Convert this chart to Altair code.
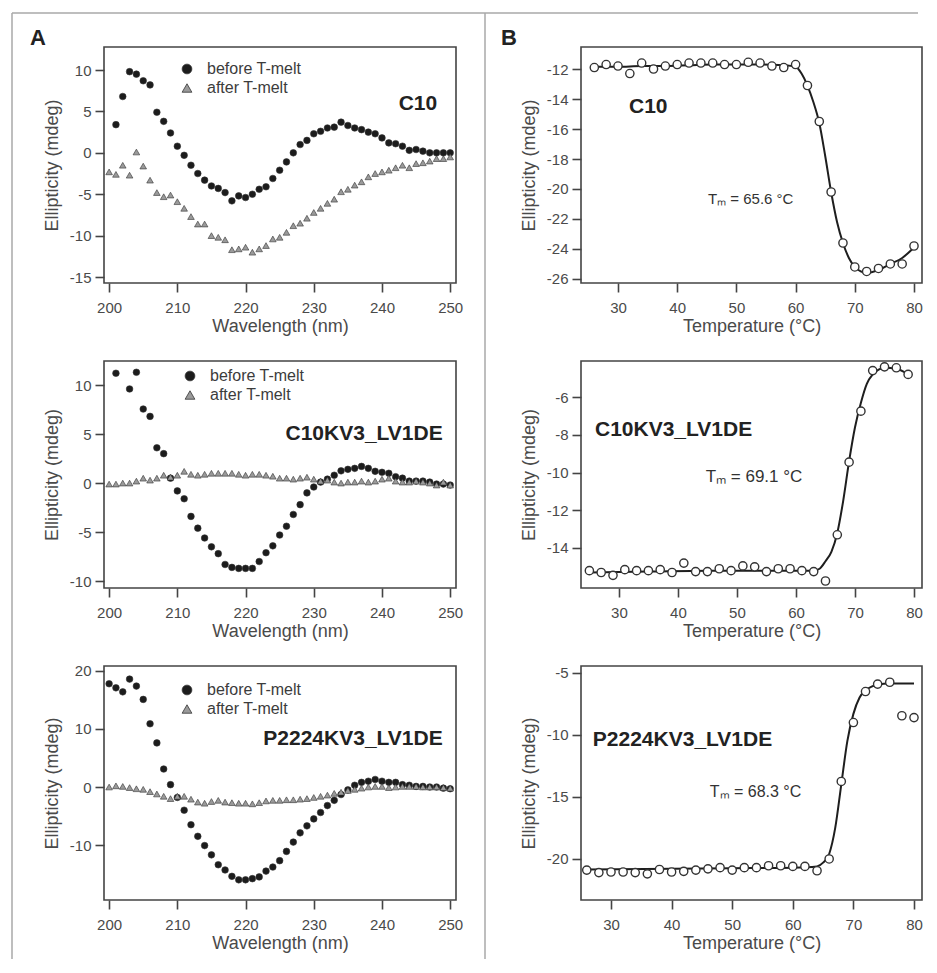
import altair as alt
import pandas as pd

# ---------------- data ----------------
WL = list(range(200, 251))
SERIES = ["before T-melt", "after T-melt"]

A1_BEFORE = [None,
    3.4, 6.8, 9.8, 9.5, 8.7, 8.2, 4.9, 3.8, 2.4, 0.8,
    -0.3, -1.5, -2.5, -3.3, -4.0, -4.3, -4.8, -5.8, -5.2, -5.4,
    -5.0, -4.4, -4.1, -3.1, -2.1, -1.1, 0.0, 1.0, 1.5, 2.3,
    2.6, 3.0, 3.1, 3.7, 3.3, 3.0, 2.8, 2.5, 2.3, 1.8,
    1.2, 1.1, 0.8, 0.3, 0.4, 0.2, 0.0, 0.0, 0.0, 0.0]
A1_AFTER = [
    -2.3, -2.6, -1.5, -2.7, 0.1, -1.6, -3.3, -4.8, -5.3, -5.1,
    -5.9, -6.7, -7.7, -8.6, -8.6, -10.0, -10.2, -10.5, -11.7, -11.6,
    -11.4, -12.0, -11.6, -11.2, -10.4, -10.2, -9.6, -8.8, -8.5, -7.9,
    -7.2, -6.7, -6.1, -5.6, -4.7, -4.4, -3.9, -3.5, -2.9, -2.5,
    -2.3, -2.1, -1.8, -1.5, -1.8, -1.3, -1.2, -1.0, -0.7, -0.7, -0.5]

A2_BEFORE = [
    None, 11.2, None, 9.6, 11.3, 7.55, 6.8, 3.6, 3.0, 0.5,
    -0.8, -1.6, -3.4, -4.6, -5.6, -6.5, -7.2, -8.3, -8.6, -8.7,
    -8.7, -8.7, -8.0, -7.1, -6.4, -5.3, -4.4, -3.2, -2.2, -1.0,
    -0.4, 0.1, 0.4, 0.8, 1.25, 1.4, 1.5, 1.7, 1.5, 1.2,
    1.1, 1.0, 0.65, 0.5, 0.2, 0.2, 0.2, 0.1, -0.1, -0.1, -0.2]
A2_AFTER = [
    -0.1, -0.1, 0.0, 0.0, 0.2, 0.5, 0.3, 0.5, 0.8, 0.6,
    0.8, 1.2, 0.9, 0.8, 0.9, 1.0, 1.0, 1.0, 1.0, 0.9,
    0.8, 0.9, 0.9, 0.8, 0.7, 0.5, 0.5, 0.4, 0.5, 0.6,
    0.4, 0.2, 0.3, 0.1, 0.0, 0.1, 0.1, 0.2, 0.1, 0.2,
    0.4, 0.5, 0.2, 0.1, 0.1, 0.2, 0.1, 0.0, -0.2, 0.1, -0.2]

A3_BEFORE = [
    17.8, 17.1, 16.4, 18.6, 17.4, 15.1, 10.9, 7.6, 3.1, 0.4,
    -1.8, -4.0, -6.5, -8.5, -10.1, -11.7, -13.4, -14.3, -15.4, -16.0,
    -16.0, -15.8, -15.5, -14.5, -13.8, -12.7, -11.1, -9.5, -7.9, -6.7,
    -5.5, -4.4, -3.2, -2.3, -1.3, -0.5, 0.3, 0.8, 1.0, 1.3,
    1.0, 0.8, 0.8, 0.4, 0.3, 0.1, 0.1, 0.0, 0.0, -0.2, -0.3]
A3_AFTER = [
    0.0, 0.2, 0.1, -0.1, -0.3, -0.4, -0.8, -1.2, -1.6, -2.0,
    -1.6, -1.6, -2.1, -2.6, -2.8, -2.5, -2.3, -2.6, -2.7, -2.8,
    -2.8, -2.9, -2.7, -2.4, -2.3, -2.3, -2.2, -2.2, -2.1, -2.0,
    -1.8, -1.6, -1.4, -1.1, -0.9, -0.6, -0.4, -0.2, 0.0, 0.1,
    0.1, -0.1, 0.0, 0.1, 0.1, 0.1, 0.0, 0.0, 0.0, -0.1, -0.2]

B1_T = [26, 28, 30, 32, 34, 36, 38, 40, 42, 44, 46, 48, 50, 52,
        54, 56, 58, 60, 62, 64, 66, 68, 70, 72, 74, 76, 78, 80]
B1_E = [-11.9, -11.7, -11.8, -12.3, -11.6, -12.0, -11.8, -11.7, -11.6, -11.6,
        -11.6, -11.7, -11.7, -11.55, -11.6, -11.8, -11.9, -11.7, -13.1, -15.5,
        -20.2, -23.6, -25.2, -25.5, -25.3, -25.0, -25.0, -23.8]
B1_FIT_T = [26, 30, 34, 38, 42, 46, 50, 54, 58, 60, 61, 62, 63, 64, 65, 66,
            67, 68, 69, 70, 71, 72, 74, 76, 78, 80]
B1_FIT_E = [-11.85, -11.85, -11.8, -11.8, -11.75, -11.7, -11.7, -11.7, -11.75,
            -11.85, -12.3, -13.1, -14.2, -15.6, -17.8, -20.2, -22.2, -23.6,
            -24.6, -25.2, -25.5, -25.6, -25.4, -25.0, -24.6, -23.9]

B2_T = [25, 27, 29, 31, 33, 35, 37, 39, 41, 43, 45, 47, 49, 51,
        53, 55, 57, 59, 61, 63, 65, 67, 69, 71, 73, 75, 77, 79]
B2_E = [-15.2, -15.3, -15.45, -15.15, -15.2, -15.2, -15.15, -15.3, -14.8, -15.25,
        -15.25, -15.1, -15.2, -14.95, -15.0, -15.25, -15.1, -15.1, -15.2, -15.25,
        -15.75, -13.3, -9.45, -6.75, -4.6, -4.4, -4.45, -4.8]
B2_FIT_T = [25, 35, 45, 55, 60, 63, 64, 65, 66, 67, 68, 69, 70, 71, 72, 73,
            74, 75, 77, 79]
B2_FIT_E = [-15.3, -15.25, -15.2, -15.2, -15.2, -15.2, -15.1, -14.7, -14.2,
            -13.2, -11.5, -9.4, -7.6, -6.3, -5.3, -4.8, -4.55, -4.45, -4.5, -4.8]

B3_T = [26, 28, 30, 32, 34, 36, 38, 40, 42, 44, 46, 48, 50, 52,
        54, 56, 58, 60, 62, 64, 66, 68, 70, 72, 74, 76, 78, 80]
B3_E = [-20.9, -21.1, -21.05, -21.05, -21.1, -21.2, -20.85, -21.05, -21.0, -20.9,
        -20.8, -20.7, -20.9, -20.7, -20.7, -20.55, -20.55, -20.6, -20.6, -20.95,
        -20.0, -13.75, -9.0, -6.5, -5.9, -5.75, -8.45, -8.6]
B3_FIT_T = [26, 40, 50, 60, 64, 65, 66, 67, 68, 69, 70, 71, 72, 73, 74, 76, 80]
B3_FIT_E = [-20.85, -20.8, -20.75, -20.7, -20.6, -20.3, -19.6, -17.5, -14.0,
            -10.5, -8.3, -7.0, -6.4, -6.1, -5.95, -5.85, -5.85]

NAMES = ["C10", "C10KV3_LV1DE", "P2224KV3_LV1DE"]
PANEL_LETTERS = ["A", "B"]
TM_LABELS = ["T\u2098 = 65.6 \u00b0C", "T\u2098 = 69.1  \u00b0C", "T\u2098 = 68.3 \u00b0C"]

A_XTICKS = [200, 210, 220, 230, 240, 250]
B_XTICKS = [30, 40, 50, 60, 70, 80]

# ---------------- styling ----------------
FONT = "Liberation Sans"
TXT = "#3c3c3c"
A_XDOM = [199.25, 250.85]
A_W, B_W = 352, 341
ROW_H = [236, 227, 234]
LABEL_EXPR = "'' + datum.value"
ONE = pd.DataFrame({"k": [0]})


def axis(values, title):
    return alt.Axis(values=values, title=title, labelExpr=LABEL_EXPR, labelOverlap=False,
                    tickCount=30)


def letter(txt, dx):
    return alt.Chart(ONE).mark_text(
        align="left", baseline="alphabetic", fontSize=22, fontWeight="bold",
        color="#222", font=FONT, text=txt
    ).encode(x=alt.value(dx), y=alt.value(-2))


def cd_panel(before, after, ydom, yticks, height, name, name_pos, leg_pos, top=False):
    rows = []
    for w, v in zip(WL, before):
        if v is not None:
            rows.append({"wl": w, "ell": v, "series": SERIES[0]})
    for w, v in zip(WL, after):
        if v is not None:
            rows.append({"wl": w, "ell": v, "series": SERIES[1]})
    df = pd.DataFrame(rows)
    xs = alt.Scale(domain=A_XDOM, nice=False, zero=False)
    ys = alt.Scale(domain=ydom, nice=False, zero=False)
    x = alt.X("wl:Q", scale=xs, axis=axis(A_XTICKS, "Wavelength (nm)"))
    y = alt.Y("ell:Q", scale=ys, axis=axis(yticks, "Ellipticity (mdeg)"))
    leg = alt.Legend(title=None, orient="none", legendX=leg_pos[0], legendY=leg_pos[1],
                     symbolSize=95, labelFontSize=16, labelColor=TXT, labelOffset=12,
                     rowPadding=3, symbolStrokeColor="#333", symbolStrokeWidth=0.8)
    pts = alt.Chart(df).mark_point(filled=True, size=44, stroke="#333", strokeWidth=0.6,
                                   opacity=1).encode(
        x=x, y=y,
        shape=alt.Shape("series:N", scale=alt.Scale(domain=SERIES, range=["circle", "triangle-up"]),
                        legend=leg),
        color=alt.Color("series:N", scale=alt.Scale(domain=SERIES, range=["#1c1c1c", "#9a9a9a"]),
                        legend=leg),
    )
    lab = alt.Chart(pd.DataFrame({"wl": [name_pos[0]], "ell": [name_pos[1]], "t": [name]})).mark_text(
        align="right", baseline="middle", fontSize=21, fontWeight="bold", color="#222", font=FONT
    ).encode(x="wl:Q", y="ell:Q", text="t:N")
    layers = [pts, lab]
    if top:
        rule_kw = dict(color="#a8a8a8", strokeWidth=1.5)
        layers += [
            alt.Chart(ONE).mark_rule(**rule_kw).encode(x=alt.value(-92), x2=alt.value(814), y=alt.value(-34)),
            alt.Chart(ONE).mark_rule(**rule_kw).encode(x=alt.value(-92), y=alt.value(-34), y2=alt.value(912)),
            alt.Chart(ONE).mark_rule(**rule_kw).encode(x=alt.value(381), y=alt.value(-34), y2=alt.value(912)),
            letter(PANEL_LETTERS[0], -74),
        ]
    return alt.layer(*layers).properties(width=A_W, height=height)


def melt_panel(ts, es, fts, fes, xdom, ydom, yticks, height, name, name_pos, tm, tm_pos, tm_size,
               top=False):
    xs = alt.Scale(domain=xdom, nice=False, zero=False)
    ys = alt.Scale(domain=ydom, nice=False, zero=False)
    x = alt.X("t:Q", scale=xs, axis=axis(B_XTICKS, "Temperature (\u00b0C)"))
    y = alt.Y("e:Q", scale=ys, axis=axis(yticks, "Ellipticity (mdeg)"))
    line = alt.Chart(pd.DataFrame({"t": fts, "e": fes})).mark_line(
        color="#1e1e1e", strokeWidth=2, interpolate="monotone").encode(x=x, y=y)
    pts = alt.Chart(pd.DataFrame({"t": ts, "e": es})).mark_point(
        shape="circle", filled=True, fill="white", stroke="#333", strokeWidth=1.4, size=68,
        opacity=1).encode(x="t:Q", y="e:Q")
    lab = alt.Chart(pd.DataFrame({"t": [name_pos[0]], "e": [name_pos[1]], "s": [name]})).mark_text(
        align="left", baseline="middle", fontSize=21, fontWeight="bold", color="#222", font=FONT
    ).encode(x="t:Q", y="e:Q", text="s:N")
    tml = alt.Chart(pd.DataFrame({"t": [tm_pos[0]], "e": [tm_pos[1]], "s": [tm]})).mark_text(
        align="left", baseline="middle", fontSize=tm_size, color="#333", font=FONT
    ).encode(x="t:Q", y="e:Q", text="s:N")
    layers = [line, pts, lab, tml]
    if top:
        layers.append(letter(PANEL_LETTERS[1], -80))
    return alt.layer(*layers).properties(width=B_W, height=height)


a1 = cd_panel(A1_BEFORE, A1_AFTER, [-15.72, 12.78], [-15, -10, -5, 0, 5, 10], ROW_H[0],
              NAMES[0], (248.1, 5.9), (75, 14), top=True)
a2 = cd_panel(A2_BEFORE, A2_AFTER, [-10.7, 12.45], [-10, -5, 0, 5, 10], ROW_H[1],
              NAMES[1], (248.9, 5.0), (78, 7))
a3 = cd_panel(A3_BEFORE, A3_AFTER, [-19.48, 20.86], [-10, 0, 10, 20], ROW_H[2],
              NAMES[2], (248.9, 8.28), (75, 16))

b1 = melt_panel(B1_T, B1_E, B1_FIT_T, B1_FIT_E, [23.75, 81.35], [-26.27, -10.53],
                [-26, -24, -22, -20, -18, -16, -14, -12], ROW_H[0],
                NAMES[0], (31.86, -14.53), TM_LABELS[0], (45.2, -20.66), 15, top=True)
b2 = melt_panel(B2_T, B2_E, B2_FIT_T, B2_FIT_E, [23.58, 81.35], [-16.12, -4.09],
                [-14, -12, -10, -8, -6], ROW_H[1],
                NAMES[1], (25.95, -7.75), TM_LABELS[1], (44.7, -10.24), 17)
b3 = melt_panel(B3_T, B3_E, B3_FIT_T, B3_FIT_E, [25.05, 81.32], [-23.31, -4.44],
                [-20, -15, -10, -5], ROW_H[2],
                NAMES[2], (27.0, -10.41), TM_LABELS[2], (46.3, -14.6), 16)

chart = alt.concat(
    a1, b1, a2, b2, a3, b3, columns=2,
    spacing={"row": 78, "column": 125}, align="each", bounds="flush",
).resolve_scale(
    x="independent", y="independent", color="independent", shape="independent"
).resolve_legend(
    color="independent", shape="independent"
).properties(
    padding={"left": 2, "top": 3, "right": 0, "bottom": 0}, background="white"
).configure(
    font=FONT
).configure_view(
    stroke="#444", strokeWidth=1.6
).configure_axis(
    domain=False, grid=False, labelFont=FONT, titleFont=FONT,
    labelFontSize=15, labelColor="#4a4a4a", titleFontSize=18, titleFontWeight="normal",
    titleColor="#4a4a4a", tickColor="#444", tickWidth=1.6, tickSize=9, labelFlush=False,
    labelOverlap=False
).configure_axisX(
    labelPadding=8, titlePadding=2
).configure_axisY(
    labelPadding=4, titlePadding=8
)

chart.save("out.html", embed_options={"renderer": "svg", "actions": False})
